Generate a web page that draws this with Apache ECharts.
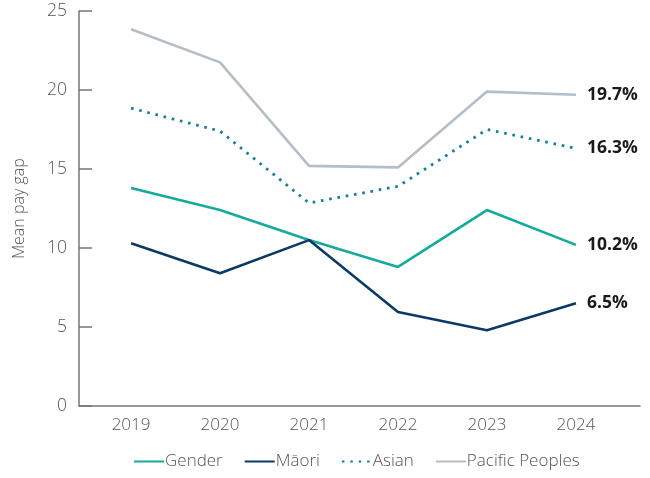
<!DOCTYPE html>
<html><head><meta charset="utf-8">
<script src="https://cdn.jsdelivr.net/npm/echarts@6/dist/echarts.min.js"></script>
<style>html,body{margin:0;padding:0;background:#fff}#c{width:650px;height:478px}</style>
</head><body><div id="c"></div>
<script>
const years = [2019, 2020, 2021, 2022, 2023, 2024];
const gender = [13.8, 12.4, 10.5, 8.8, 12.4, 10.2];
const maori = [10.3, 8.4, 10.5, 5.95, 4.8, 6.5];
const asian = [18.85, 17.4, 12.85, 13.9, 17.5, 16.3];
const pacific = [23.85, 21.75, 15.2, 15.1, 19.9, 19.7];
const yTicks = [0, 5, 10, 15, 20, 25];

const FONT = '"Open Sans", "Noto Sans", sans-serif';
const pairs = arr => years.map((y, i) => [y, arr[i]]);

function mk(name, data, color, type) {
  return {
    name, type: 'line', data: pairs(data), symbol: 'none',
    lineStyle: { color, width: type ? 2.8 : 2.6, type: type || 'solid' },
    itemStyle: { color },
    endLabel: {
      show: true, distance: 11,
      formatter: p => p.value[1].toFixed(1) + '%',
      color: '#1a1a1a', fontFamily: FONT, fontWeight: 'bold', fontSize: 17.5
    }
  };
}

const chart = echarts.init(document.getElementById('c'));
chart.setOption({
  animation: false,
  grid: { left: 79, right: 10, top: 11, bottom: 72, containLabel: false },
  legend: {
    bottom: 3, left: 128, itemWidth: 30, itemHeight: 3, itemGap: 21,
    itemStyle: { opacity: 0 },
    textStyle: { fontFamily: FONT, fontSize: 17, fontWeight: 300, color: '#555', padding: [0, 0, 0, -4] },
    data: ['Gender', 'Māori', 'Asian', 'Pacific Peoples']
  },
  xAxis: {
    type: 'value', min: 2018.415, max: 2024.72,
    splitLine: { show: false },
    axisLine: { show: true, lineStyle: { color: '#777', width: 1.5 } },
    axisTick: { show: false },
    axisLabel: {
      customValues: years, formatter: v => String(v),
      fontFamily: FONT, fontSize: 17, fontWeight: 300, color: '#555', margin: 11
    }
  },
  yAxis: {
    type: 'value', min: 0, max: 25, interval: 5,
    name: 'Mean pay gap', nameLocation: 'middle', nameGap: 52,
    nameTextStyle: { fontFamily: FONT, fontSize: 16, fontWeight: 300, color: '#555' },
    splitLine: { show: false },
    axisLine: { show: true, lineStyle: { color: '#777', width: 1.5 } },
    axisTick: { show: true, inside: true, length: 13, lineStyle: { color: '#777', width: 1.5 } },
    axisLabel: {
      customValues: yTicks,
      fontFamily: FONT, fontSize: 17.5, fontWeight: 300, color: '#555', margin: 12
    }
  },
  series: [
    mk('Gender', gender, '#16aa9b'),
    mk('Māori', maori, '#0b3a66'),
    mk('Asian', asian, '#11809f', [2.6, 5.8]),
    mk('Pacific Peoples', pacific, '#b3bec6')
  ]
});
</script>
</body></html>
